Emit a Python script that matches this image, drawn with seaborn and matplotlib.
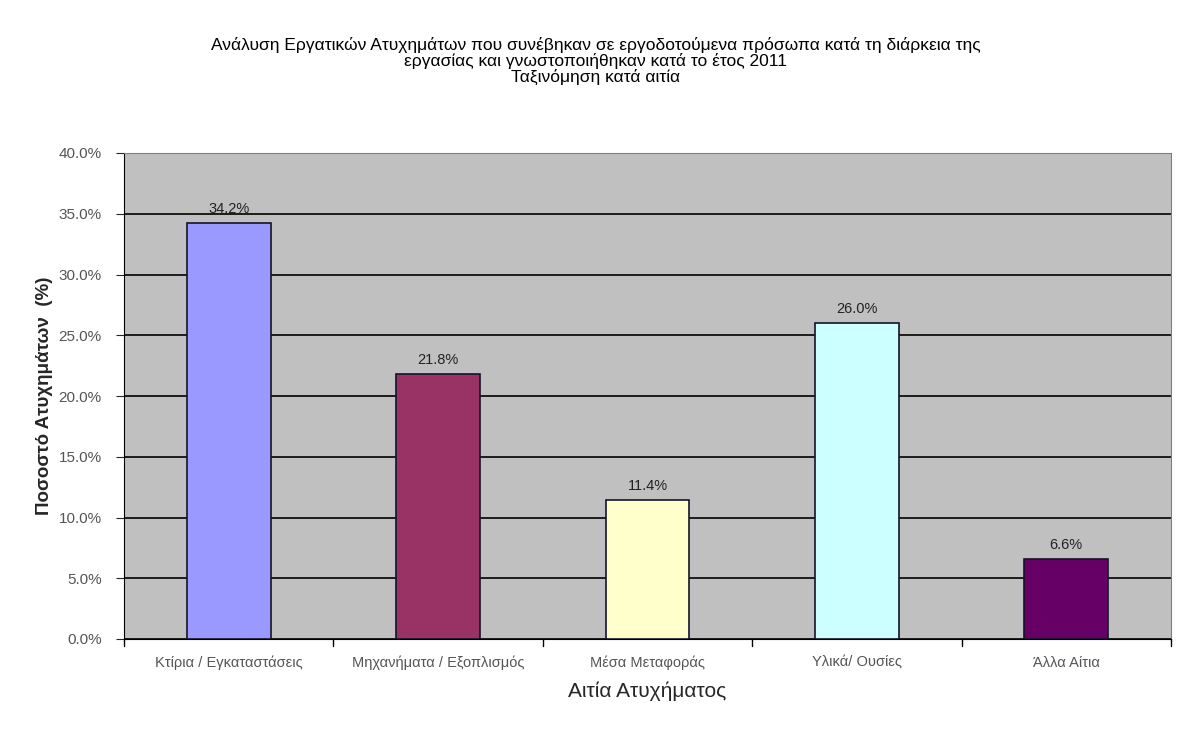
import numpy as np
import pandas as pd
import matplotlib
matplotlib.use("Agg")
import matplotlib.pyplot as plt
import seaborn as sns
from matplotlib.ticker import FuncFormatter

categories = ["Κτίρια / Εγκαταστάσεις", "Μηχανήματα / Εξοπλισμός", "Μέσα Μεταφοράς",
              "Υλικά/ Ουσίες", "Άλλα Αίτια"]
percentages = [34.2, 21.8, 11.4, 26.0, 6.6]
bar_colors = ["#9999FF", "#993366", "#FFFFCC", "#CCFFFF", "#660066"]

title = ("Ανάλυση Εργατικών Ατυχημάτων που συνέβηκαν σε εργοδοτούμενα πρόσωπα κατά τη διάρκεια της\n"
         "εργασίας και γνωστοποιήθηκαν κατά το έτος 2011\n"
         "Ταξινόμηση κατά αιτία")

sns.set_style("white")
plt.rcParams["font.family"] = ["Liberation Sans", "DejaVu Sans"]

df = pd.DataFrame({"cause": categories, "pct": percentages})

fig = plt.figure(figsize=(11.91, 7.31), dpi=100)
ax = fig.add_axes([124 / 1191, 1 - 639 / 731, (1171 - 124) / 1191, (639 - 153) / 731])

sns.barplot(data=df, x="cause", y="pct", hue="cause", palette=bar_colors, legend=False,
            width=0.4, edgecolor="#141428", linewidth=1.2, saturation=1, ax=ax, zorder=3)

ax.set_facecolor("#C0C0C0")
ax.set_ylim(0, 40)
ax.set_xlim(-0.5, 4.5)
ax.set_yticks(np.arange(0, 40.1, 5))
ax.yaxis.set_major_formatter(FuncFormatter(lambda v, p: f"{v:.1f}%"))
ax.grid(axis="y", color="black", linewidth=1.2, zorder=0)
ax.set_axisbelow(True)
for s in ax.spines.values():
    s.set_color("#808080")
ax.spines["left"].set_color("black")
ax.spines["bottom"].set_color("black")

ax.set_xticks(np.arange(5))
ax.set_xticklabels(categories, fontsize=10.5, color="#555555")
ax.tick_params(axis="x", length=0, pad=12)
ax.tick_params(axis="y", length=6, direction="out", left=True, pad=10,
               labelsize=11, labelcolor="#555555")
for b in np.arange(-0.5, 4.6, 1):
    ax.plot([b, b], [0, -0.014], transform=ax.get_xaxis_transform(), color="black",
            lw=1, clip_on=False)

for i, v in enumerate(percentages):
    ax.text(i, v + 0.6, f"{v:.1f}%", ha="center", va="bottom", fontsize=10.5, color="#222222")

ax.set_xlabel("Αιτία Ατυχήματος", fontsize=15, labelpad=8)
ax.set_ylabel("Ποσοστό Ατυχημάτων  (%)", fontsize=13.5, fontweight="bold", labelpad=4)

fig.text(0.5, 1 - 61 / 731, title, ha="center", va="center", fontsize=12.5,
         linespacing=0.98, color="black")

fig.savefig("out.png", dpi=100, facecolor="white")
